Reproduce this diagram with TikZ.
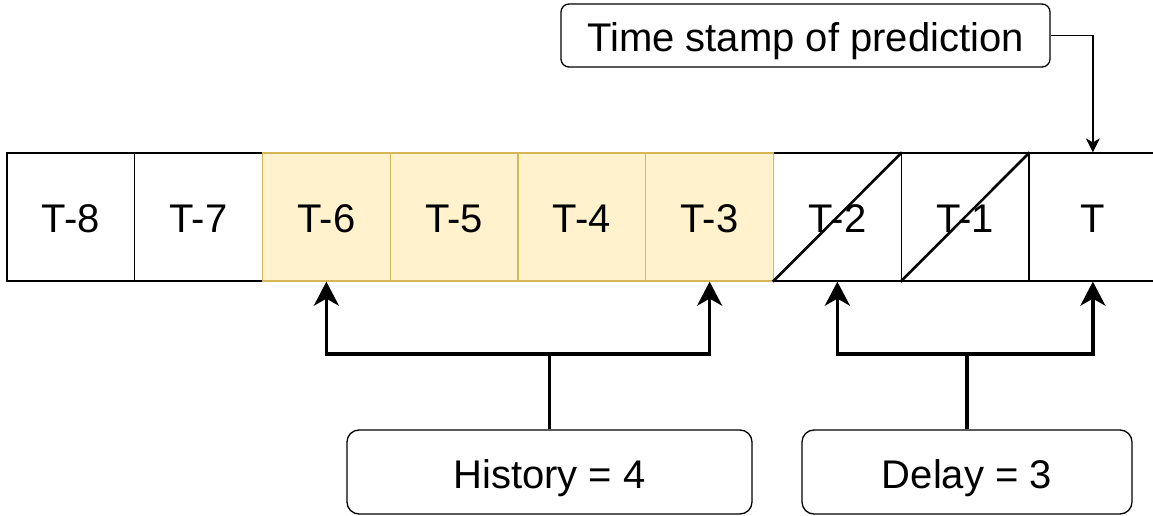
\documentclass[tikz,border=0pt]{standalone}
\usepackage{fontspec}
\setmainfont{Liberation Sans}
\usetikzlibrary{arrows.meta}
\definecolor{histfill}{HTML}{FFF2CC}
\definecolor{histdraw}{HTML}{D6B656}
\begin{document}
\begin{tikzpicture}[x=1pt,y=-1pt,
  cellbox/.style={draw, line width=1.3pt, minimum width=127.75pt, minimum height=128pt, inner sep=0pt, text height=31pt, text depth=0pt, font=\fontsize{40}{48}\selectfont},
  histcell/.style={cellbox, draw=histdraw, fill=histfill},
  labelbox/.style={draw, line width=1.3pt, rounded corners=12pt, inner sep=0pt, text height=32pt, text depth=0pt, font=\fontsize{40}{48}\selectfont},
  bigarrow/.style={line width=3.3pt, -{Stealth[length=24pt,width=25pt,inset=7pt]}},
  thinarrow/.style={line width=1.4pt, -{Stealth[length=14pt,width=14pt,inset=4pt]}},
  slash/.style={line width=2.6pt}
]
\useasboundingbox (0,0) rectangle (1153,516);
% white cells
\node[cellbox] (c8) at (70.875,217) {T-8};
\node[cellbox] (c7) at (198.625,217) {T-7};
\node[cellbox] (c2) at (837.375,217) {T-2};
\node[cellbox] (c1) at (965.125,217) {T-1};
\node[cellbox] (c0) at (1092.875,217) {T};
% history cells
\node[histcell] (c6) at (326.375,217) {T-6};
\node[histcell] (c5) at (454.125,217) {T-5};
\node[histcell] (c4) at (581.875,217) {T-4};
\node[histcell] (c3) at (709.625,217) {T-3};
% strike-through diagonals
\draw[slash] (c2.south west) -- (c2.north east);
\draw[slash] (c1.south west) -- (c1.north east);
% label boxes
\node[labelbox, rounded corners=8pt, minimum width=489pt, minimum height=63pt] (ts) at (805.5,35.5) {Time stamp of prediction};
\node[labelbox, minimum width=405pt, minimum height=84pt] (hist) at (549.5,472) {History = 4};
\node[labelbox, minimum width=330pt, minimum height=84pt] (del) at (967,472) {Delay = 3};
% connectors
\draw[thinarrow] (ts.east) -| (c0.north);
\coordinate (hj) at (549.5,354);
\coordinate (dj) at (967,354);
\draw[bigarrow] (hist.north) -- (hj) -| (c6.south);
\draw[bigarrow] (hj) -| (c3.south);
\draw[bigarrow] (del.north) -- (dj) -| (c2.south);
\draw[bigarrow] (dj) -| (c0.south);
\end{tikzpicture}
\end{document}
